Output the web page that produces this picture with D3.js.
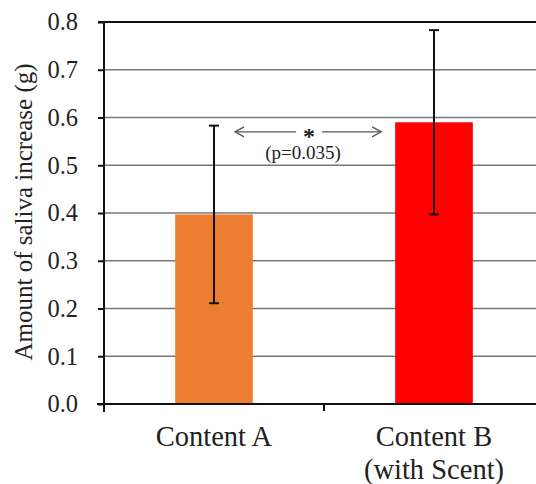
<!DOCTYPE html>
<html>
<head>
<meta charset="utf-8">
<script src="https://cdn.jsdelivr.net/npm/d3@7"></script>
</head>
<body style="margin:0; background:#fff">
<div class="chart"></div>
<script>
// data
var categories = ["Content A", "Content B"];
var categoryLines = [["Content A"], ["Content B", "(with Scent)"]];
var means = [0.397, 0.59];
var errors = [0.186, 0.193];
var barColors = ["#ED7D31", "#FF0000"];
var yTicks = [0, 0.1, 0.2, 0.3, 0.4, 0.5, 0.6, 0.7, 0.8];
var sigLabel = "*";
var pLabel = "(p=0.035)";

var serif = "'Liberation Serif'";
var width = 536, height = 484;
var margin = {left: 104, right: -8, top: 22, bottom: 80};

const svg = d3.select(".chart").append("svg")
  .attr("width", width)
  .attr("height", height);

var x = d3.scaleBand()
  .domain(categories)
  .range([margin.left, width - margin.right])
  .paddingInner(0.647)
  .paddingOuter(0.3235);

var y = d3.scaleLinear()
  .domain([0, 0.8])
  .range([height - margin.bottom, margin.top]);

var x0 = x.range()[0], x1 = x.range()[1];

// gridlines
svg.selectAll("line.grid")
  .data(yTicks.filter(function(d){ return d > 0 && d < 0.8; }))
  .enter().append("line")
  .attr("class", "grid")
  .attr("x1", x0).attr("x2", x1)
  .attr("y1", function(d){ return y(d); })
  .attr("y2", function(d){ return y(d); })
  .attr("stroke", "#777")
  .attr("stroke-width", 1.5);

// top border line at 0.8
svg.append("line")
  .attr("x1", x0 - 6).attr("x2", x1)
  .attr("y1", y(0.8)).attr("y2", y(0.8))
  .attr("stroke", "#111")
  .attr("stroke-width", 2);

// bars
svg.selectAll("rect.bar")
  .data(categories)
  .enter().append("rect")
  .attr("class", "bar")
  .attr("x", function(d){ return x(d); })
  .attr("width", x.bandwidth())
  .attr("y", function(d, i){ return y(means[i]); })
  .attr("height", function(d, i){ return y(0) - y(means[i]); })
  .attr("fill", function(d, i){ return barColors[i]; });

// error bars
var cx = function(d){ return x(d) + x.bandwidth() / 2; };
var eb = svg.selectAll("g.err")
  .data(categories)
  .enter().append("g")
  .attr("class", "err")
  .attr("stroke", "#111")
  .attr("stroke-width", 2);
eb.append("line")
  .attr("x1", cx).attr("x2", cx)
  .attr("y1", function(d, i){ return y(means[i] + errors[i]); })
  .attr("y2", function(d, i){ return y(means[i] - errors[i]); });
eb.append("line")
  .attr("x1", function(d){ return cx(d) - 5; }).attr("x2", function(d){ return cx(d) + 5; })
  .attr("y1", function(d, i){ return y(means[i] + errors[i]); })
  .attr("y2", function(d, i){ return y(means[i] + errors[i]); });
eb.append("line")
  .attr("x1", function(d){ return cx(d) - 5; }).attr("x2", function(d){ return cx(d) + 5; })
  .attr("y1", function(d, i){ return y(means[i] - errors[i]); })
  .attr("y2", function(d, i){ return y(means[i] - errors[i]); });

// y axis
var yAxis = d3.axisLeft(y)
  .tickValues(yTicks)
  .tickFormat(d3.format(".1f"))
  .tickSize(6)
  .tickPadding(20);
var gy = svg.append("g")
  .attr("transform", "translate(" + x0 + ",0)")
  .call(yAxis);
gy.select(".domain").remove();
gy.selectAll(".tick line").attr("stroke", "#111").attr("stroke-width", 2);
gy.selectAll(".tick text")
  .style("font-family", serif)
  .style("font-size", "24.5px")
  .attr("fill", "#222");
svg.append("line")
  .attr("x1", x0).attr("x2", x0)
  .attr("y1", y(0.8) - 1).attr("y2", y(0) + 8)
  .attr("stroke", "#111").attr("stroke-width", 2);

// x axis
svg.append("line")
  .attr("x1", x0 - 7).attr("x2", x1)
  .attr("y1", y(0)).attr("y2", y(0))
  .attr("stroke", "#111").attr("stroke-width", 2);
svg.selectAll("line.xtick")
  .data(d3.range(1, categories.length))
  .enter().append("line")
  .attr("class", "xtick")
  .attr("x1", function(i){ return x0 + x.step() * i; })
  .attr("x2", function(i){ return x0 + x.step() * i; })
  .attr("y1", y(0)).attr("y2", y(0) + 7)
  .attr("stroke", "#111").attr("stroke-width", 2);

// category labels
var cl = svg.selectAll("text.cat")
  .data(categories)
  .enter().append("text")
  .attr("class", "cat")
  .attr("text-anchor", "middle")
  .attr("fill", "#222")
  .style("font-family", serif)
  .style("font-size", "28.5px");
cl.selectAll("tspan")
  .data(function(d, i){ return categoryLines[i].map(function(t){ return {t: t, c: d}; }); })
  .enter().append("tspan")
  .attr("x", function(d){ return cx(d.c); })
  .attr("y", function(d, j){ return y(0) + 42 + j * 33; })
  .text(function(d){ return d.t; });

// y axis title
svg.append("text")
  .attr("transform", "translate(32," + 212 + ") rotate(-90)")
  .attr("text-anchor", "middle")
  .attr("fill", "#222")
  .style("font-family", serif)
  .style("font-size", "25px")
  .text("Amount of saliva increase (g)");

// significance annotation
var ay = y(0.57);
var ax0 = cx(categories[0]) + 21;
var ax1 = x(categories[1]) - 14;
var amid = (ax0 + ax1) / 2;
var ann = svg.append("g").attr("stroke", "#555").attr("stroke-width", 1.3).attr("fill", "none");
ann.append("line").attr("x1", ax0).attr("x2", amid - 12).attr("y1", ay).attr("y2", ay);
ann.append("line").attr("x1", amid + 14).attr("x2", ax1).attr("y1", ay).attr("y2", ay);
ann.append("path").attr("d", "M" + (ax0 + 9) + "," + (ay - 5) + "L" + ax0 + "," + ay + "L" + (ax0 + 9) + "," + (ay + 5));
ann.append("path").attr("d", "M" + (ax1 - 9) + "," + (ay - 5) + "L" + ax1 + "," + ay + "L" + (ax1 - 9) + "," + (ay + 5));
svg.append("text")
  .attr("x", amid + 1).attr("y", ay + 12)
  .attr("text-anchor", "middle")
  .attr("fill", "#222")
  .style("font-family", serif)
  .style("font-size", "24px")
  .style("font-weight", "bold")
  .text(sigLabel);
svg.append("text")
  .attr("x", amid - 5).attr("y", ay + 27)
  .attr("text-anchor", "middle")
  .attr("fill", "#222")
  .style("font-family", serif)
  .style("font-size", "19px")
  .text(pLabel);
</script>
</body>
</html>
